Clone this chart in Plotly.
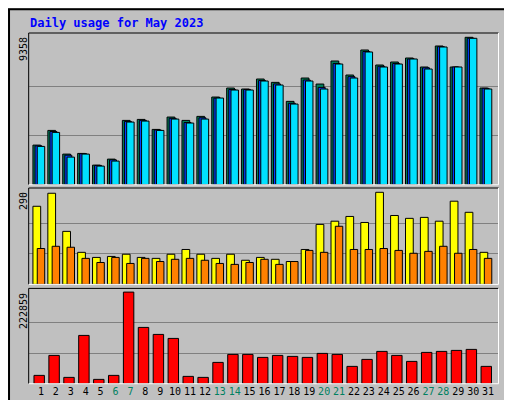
import plotly.graph_objects as go

days = list(range(1, 32))
weekend = [6, 7, 13, 14, 20, 21, 27, 28]
hits = [2519,3451,1948,1990,1249,1630,4086,4149,3514,4298,4086,4340,5568,6139,6076,6711,6499,5293,6774,6393,7854,6965,8553,7600,7791,8045,7473,8807,7473,9358,6139]
files = [2470,3380,1880,1975,1230,1580,4020,4090,3480,4220,3950,4250,5500,6050,6050,6620,6400,5170,6650,6180,7700,6860,8460,7520,7700,7980,7420,8760,7473,9300,6120]
pages = [2435,3324,1757,1948,1185,1504,3980,4043,3451,4170,3917,4170,5504,6012,6012,6584,6330,5123,6584,6076,7663,6774,8426,7473,7663,7981,7346,8743,7473,9294,6076]
visits = [246,287,167,101,85,88,95,85,82,95,110,95,82,95,76,85,79,72,110,189,199,214,195,290,217,208,211,199,262,227,101]
sites = [113,120,117,82,69,85,66,82,72,79,82,76,66,63,69,79,63,72,107,101,183,110,110,113,107,98,104,120,98,110,82]
kbytes = [20260,68884,15398,117508,10535,20260,222859,136958,119939,110214,17829,15398,51866,71315,71315,64022,68884,66453,64022,73746,71315,42141,59159,78609,68884,54297,76178,78609,81040,83471,42141]
max_hits, max_visits, max_kb = 9358, 290, 222859

C_HITS, C_FILES, C_PAGES = "#00805c", "#0040ff", "#00e0ff"
C_VIS, C_SITES, C_KB = "#ffff00", "#ff8000", "#ff0000"
LINE = dict(color="black", width=1)

fig = go.Figure()
def bar(y, color, off, w, ax):
    fig.add_trace(go.Bar(x=days, y=y, marker=dict(color=color, line=LINE), offset=off, width=w,
                         xaxis="x" + ax, yaxis="y" + ax, showlegend=False, hoverinfo="skip"))

bar(hits, C_HITS, -0.54, 0.52, "")
bar(files, C_FILES, -0.40, 0.47, "")
bar(pages, C_PAGES, -0.25, 0.50, "")
bar(visits, C_VIS, -0.54, 0.52, "2")
bar(sites, C_SITES, -0.25, 0.50, "2")
bar(kbytes, C_KB, -0.47, 0.70, "3")

xr = [0.175, 31.70]
xdom = [0.0404, 0.958]
ticktext = [f"<span style='color:{'#008060' if d in weekend else 'black'}'>{d}</span>" for d in days]
common_x = dict(range=xr, domain=xdom, showgrid=False, zeroline=False, showline=False)
fig.update_layout(
    width=512, height=400, margin=dict(l=0, r=0, t=0, b=0),
    paper_bgcolor="#c0c0c0", plot_bgcolor="#c0c0c0", barmode="overlay",
    font=dict(family="DejaVu Sans Mono", size=10, color="black"),
    xaxis=dict(**common_x, showticklabels=False, anchor="y"),
    xaxis2=dict(**common_x, showticklabels=False, anchor="y2"),
    xaxis3=dict(**common_x, tickvals=days, ticktext=ticktext, ticks="", anchor="y3", tickangle=0,
                automargin=False, tickfont=dict(size=10, family="DejaVu Sans Mono")),
    yaxis=dict(domain=[0.558, 0.9375], range=[0, max_hits * 151.7 / 147.4], tickvals=[max_hits/3, 2*max_hits/3],
               showticklabels=False, gridcolor="#808080", zeroline=False),
    yaxis2=dict(domain=[0.309, 0.55], range=[0, max_visits * 96.3 / 92], tickvals=[max_visits/3, 2*max_visits/3],
                showticklabels=False, gridcolor="#808080", zeroline=False),
    yaxis3=dict(domain=[0.0607, 0.299], range=[0, max_kb * 95.4 / 91.7], tickvals=[max_kb/3, 2*max_kb/3],
                showticklabels=False, gridcolor="#808080", zeroline=False),
)

shapes = [
    dict(type="rect", xref="paper", yref="paper", x0=0.002, y0=0.003, x1=0.998, y1=0.997,
         line=dict(color="black", width=2)),
    dict(type="line", xref="paper", yref="paper", x0=0.988, y0=0.01, x1=0.988, y1=0.99, line=dict(color="#808080", width=3)),
    dict(type="line", xref="paper", yref="paper", x0=0.012, y0=0.012, x1=0.988, y1=0.012, line=dict(color="#808080", width=3)),
]
for y0, y1 in [(0.558, 0.9375), (0.309, 0.55), (0.0607, 0.299)]:
    shapes.append(dict(type="line", xref="paper", yref="paper", x0=xdom[0], y0=y1, x1=xdom[1], y1=y1, line=dict(color="black", width=1)))
    shapes.append(dict(type="line", xref="paper", yref="paper", x0=xdom[0], y0=y0, x1=xdom[0], y1=y1, line=dict(color="black", width=1)))
    shapes.append(dict(type="line", xref="paper", yref="paper", x0=xdom[1], y0=y0, x1=xdom[1], y1=y1, line=dict(color="white", width=1)))
    shapes.append(dict(type="line", xref="paper", yref="paper", x0=xdom[0], y0=y0, x1=xdom[1], y1=y0, line=dict(color="white", width=1)))
fig.update_layout(shapes=shapes)

def ann(text, x, y, **kw):
    d = dict(text=text, x=x, y=y, xref="paper", yref="paper", showarrow=False)
    d.update(kw)
    fig.add_annotation(**d)

ann("<b>Daily usage for May 2023</b>", 20/512, 1 - 15/400, xanchor="left", yanchor="middle",
    font=dict(color="#0000ff", size=12))
for txt, yy in [(f"{max_hits}", 27), (f"{max_visits}", 182), (f"{max_kb}", 283)]:
    ann(txt, 15/512, 1 - yy/400, textangle=-90, xanchor="center", yanchor="top", font=dict(size=10))

GRAY = "#606060"
right_labels = [
    ("Pages", C_PAGES, 123.4), ("/", GRAY, 101.6), ("Files", C_FILES, 79.8), ("/", GRAY, 58), ("Hits", C_HITS, 39),
    ("Sites", C_SITES, 263.4), ("/", GRAY, 241.6), ("Visits", C_VIS, 217),
    ("KBytes", C_KB, 360.6),
]
for txt, col, yy in right_labels:
    ann(txt, 501/512, 1 - yy/400, textangle=-90, xanchor="center", yanchor="middle",
        font=dict(size=9, color=col))

fig.write_html("out.html")
